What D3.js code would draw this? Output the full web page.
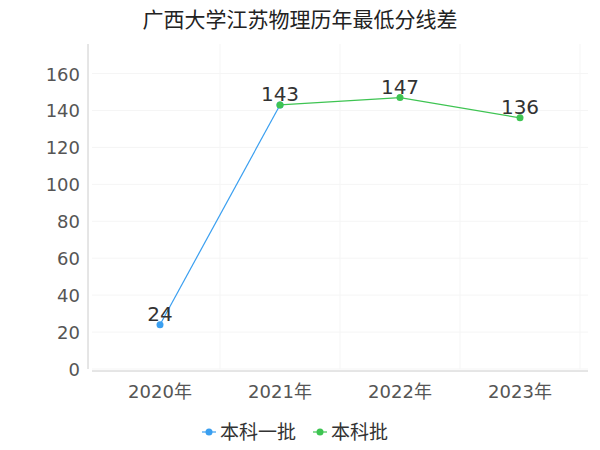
<!DOCTYPE html>
<html><head><meta charset="utf-8">
<script src="https://cdn.jsdelivr.net/npm/d3@7"></script>
<style>body{margin:0;background:#fff}text{font-family:"DejaVu Sans","Noto Sans CJK SC",sans-serif}</style>
</head><body><svg id="c" width="600" height="450"></svg>
<script>
const categories=["2020年","2021年","2022年","2023年"];
const seriesNames=["本科一批","本科批"];
const series1=[24,143,null,null];
const series2=[null,143,147,136];
const yTicks=[0,20,40,60,80,100,120,140,160];
const colors=["#3a9ff0","#3ec452"];
const svg=d3.select("#c");
const x=d3.scalePoint().domain(categories).range([160,520]);
const y=d3.scaleLinear().domain([0,176]).range([369,44]);
svg.append("text").attr("x",300).attr("y",27).attr("text-anchor","middle").attr("font-size",21).attr("fill","#222").text("广西大学江苏物理历年最低分线差");
svg.append("g").selectAll("line").data(yTicks).join("line").attr("x1",92).attr("x2",588).attr("y1",d=>y(d)).attr("y2",d=>y(d)).attr("stroke","#f5f5f5");
svg.append("g").selectAll("line").data(categories).join("line").attr("x1",d=>x(d)+60).attr("x2",d=>x(d)+60).attr("y1",44).attr("y2",369).attr("stroke","#f5f5f5");
svg.append("line").attr("x1",88).attr("x2",88).attr("y1",44).attr("y2",369).attr("stroke","#ccc");
svg.append("line").attr("x1",92).attr("x2",588).attr("y1",371).attr("y2",371).attr("stroke","#ccc");
svg.append("g").selectAll("text").data(yTicks).join("text").attr("x",80).attr("y",d=>y(d)+7).attr("text-anchor","end").attr("font-size",18).attr("fill","#555").text(d=>d);
svg.append("g").selectAll("text").data(categories).join("text").attr("x",d=>x(d)).attr("y",398).attr("text-anchor","middle").attr("font-size",18).attr("fill","#555").text(d=>d);
[series1,series2].forEach((s,i)=>{
  const pts=categories.map((c,j)=>({c,v:s[j]}));
  const line=d3.line().defined(d=>d.v!=null).x(d=>x(d.c)).y(d=>y(d.v));
  svg.append("path").datum(pts).attr("d",line).attr("fill","none").attr("stroke",colors[i]).attr("stroke-width",1.2);
  svg.append("g").selectAll("circle").data(pts.filter(d=>d.v!=null)).join("circle").attr("cx",d=>x(d.c)).attr("cy",d=>y(d.v)).attr("r",3.5).attr("fill",colors[i]);
});
const labels=[{c:categories[0],v:series1[0]},{c:categories[1],v:series2[1]},{c:categories[2],v:series2[2]},{c:categories[3],v:series2[3]}];
svg.append("g").selectAll("text").data(labels).join("text").attr("x",d=>x(d.c)).attr("y",d=>y(d.v)-4).attr("text-anchor","middle").attr("font-size",20).attr("fill","#333").text(d=>d.v);
const lg=[{n:seriesNames[0],x:202},{n:seriesNames[1],x:313}];
lg.forEach((d,i)=>{
  svg.append("line").attr("x1",d.x).attr("x2",d.x+14).attr("y1",432).attr("y2",432).attr("stroke",colors[i]).attr("stroke-width",1.2);
  svg.append("circle").attr("cx",d.x+7).attr("cy",432).attr("r",3.5).attr("fill",colors[i]);
  svg.append("text").attr("x",d.x+18).attr("y",439).attr("font-size",19).attr("fill","#333").text(d.n);
});
</script></body></html>
